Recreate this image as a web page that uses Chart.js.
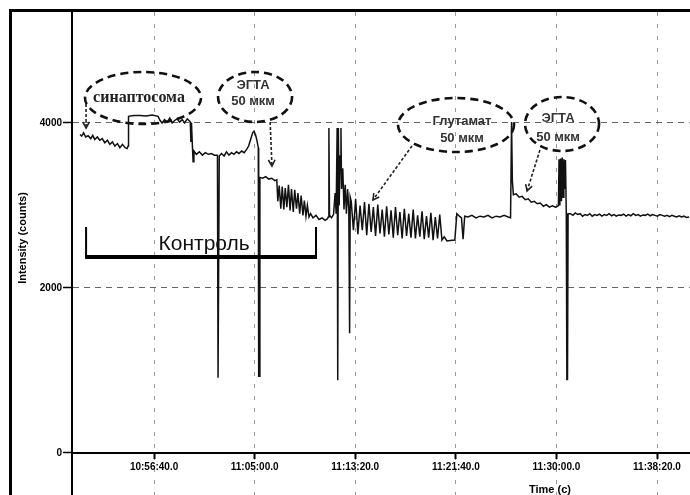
<!DOCTYPE html>
<html><head><meta charset="utf-8">
<script src="https://cdn.jsdelivr.net/npm/chart.js@4"></script>
<style>html,body{margin:0;padding:0;background:#fff;}canvas{display:block}</style>
</head><body>
<canvas id="c" width="690" height="495"></canvas>
<script>
// time in seconds after 10:50:00
const timeSec = [
32,40,50,60,72,85,95,105,118,130,142,155,168,180,193,205,218,230,243,256,266,271,273,300,330,360,390,420,
430,440,452,465,478,490,502,515,527,540,552,565,577,580,583,586,590,594,598,610,625,640,655,670,685,700,
715,718,721,724,735,748,760,772,785,797,810,822,835,848,860,870,880,890,897,905,912,918,920,924,926,
940,955,970,985,1000,1010,1015,1022,1030,1037,1045,1052,1060,1068,1076,1083,1092,1099,1108,1115,1124,1131,
1140,1147,1155,1162,1170,1178,1190,1205,1220,1235,1250,1262,
1266,1269,1272,1282,1292,1300,1305,1310,1312,1314,1316,1320,1325,1329,1332,1338,1344,1350,1356,1362,1368,1372,1375,
1380,1391,1402,1413,1424,1435,1446,1457,1468,1479,1490,1501,1512,1523,1534,1545,1556,1567,1578,1589,1600,
1611,1622,1633,1644,1655,1666,1677,1688,1699,1710,1721,1732,1743,1754,1765,1776,1787,1798,1809,1820,1831,
1842,1856,1872,1895,1905,1918,1928,1936,1944,1960,1980,2000,2020,2040,2060,2080,2100,2120,2140,2160,2172,
2177,2181,2186,2200,2215,2230,2245,2260,2275,2290,2305,2320,2335,2350,2365,2380,2395,2405,
2410,2413,2417,2421,2425,2429,2433,2437,2441,2445,2449,2452,2455,2458,
2470,2482,2494,2506,2518,2530,2542,2554,2566,2578,2590,2602,2614,2626,2638,2650,2662,2674,2686,2698,2710,
2722,2734,2746,2758,2770,2782,2794,2806,2818,2830,2842,2854,2866,2878,2890,2902,2914,2926,2938,2950,2962,
2974,2986,2998,3010,3022,3034,3046,3060
];
const intensity = [
3860,3840,3880,3830,3845,3810,3850,3800,3830,3790,3810,3760,3790,3740,3770,3720,3750,3700,3740,3700,3690,3720,4080,4090,4090,4085,4095,4080,
4030,4000,4040,4010,4060,4000,4030,4050,4010,4040,4000,4050,4020,4010,3770,4000,3750,3530,3660,3620,3650,3610,3640,3620,3630,3610,
3610,910,910,3600,3630,3600,3650,3610,3640,3620,3650,3630,3660,3640,3680,3720,3800,3880,3900,3850,3780,3700,930,930,3340,
3330,3350,3320,3330,3300,3310,3050,3240,2960,3230,2950,3210,2980,3250,2940,3200,2920,3190,2960,3150,2900,3120,
2880,3060,2870,3000,2860,2900,2850,2880,2830,2850,2820,2840,
2860,3940,2880,2850,2890,3150,2900,3940,3100,880,3940,3000,3600,3940,3200,3450,2950,3250,2900,3200,2950,1450,3100,
3050,2700,3080,2650,3000,2700,3040,2640,3020,2680,2980,2630,3010,2660,2950,2620,2990,2650,2940,2610,2980,
2640,2920,2600,2960,2630,2900,2610,2950,2600,2880,2620,2930,2590,2870,2610,2910,2580,2860,2600,2890,2580,
2620,2570,2575,2580,2900,2870,2850,2590,2870,2860,2880,2850,2870,2860,2880,2850,2870,2860,2880,2860,2850,
4010,3300,3130,3140,3100,3110,3070,3080,3040,3050,3020,3030,2990,3010,2980,2995,2980,2990,
3000,3560,3000,3570,3050,3580,3100,3560,3200,3550,2900,890,890,2900,
2900,2880,2910,2890,2900,2870,2890,2880,2900,2870,2890,2880,2895,2870,2890,2880,2900,2875,2890,2870,2885,
2880,2895,2870,2890,2875,2900,2880,2890,2870,2885,2880,2895,2875,2890,2880,2870,2890,2880,2870,2880,2865,
2880,2870,2860,2875,2860,2870,2855,2860
];
const tickTimes = [400, 900, 1400, 1900, 2400, 2900];
const yTicks = [0, 2000, 4000];
const T0 = 10*3600 + 50*60;

const ellipseNotes = [
  {t:345,  v:4303, rx:58, ry:26, lines:['синаптосома'], serif:true, dx:-4, dy:[0]},
  {t:902,  v:4315, rx:37, ry:25, lines:['ЭГТА','50 мкм'], dx:-2, dy:[-12,4]},
  {t:1901, v:3975, rx:58, ry:27, lines:['Глутамат','50 мкм'], dx:6, dy:[-4,13]},
  {t:2428, v:3987, rx:37, ry:27, lines:['ЭГТА','50 мкм'], dx:-4, dy:[-6,13]}
];
const arrowNotes = [
  {from:[62,4230],   to:[62,3939]},
  {from:[977,4012],  to:[986,3478]},
  {from:[1682,3721], to:[1488,3066]},
  {from:[2318,3672], to:[2254,3175]}
];
const controlBracket = {t1:62, t2:1205, v:2376, vTop:2739, label:'Контроль', labelT:649, labelV:2460};

function fmt(v){
  const s = T0 + v;
  const h = Math.floor(s/3600), m = Math.floor((s%3600)/60), sec = s%60;
  return h + ':' + String(m).padStart(2,'0') + ':' + String(sec).padStart(2,'0') + '.0';
}

const annotPlugin = {
  id: 'annot',
  afterDraw(chart){
    const {ctx, scales:{x, y}} = chart;
    const px = t => x.getPixelForValue(t), py = v => y.getPixelForValue(v);
    ctx.save();
    // outer frame
    ctx.fillStyle = '#000';
    ctx.fillRect(9, 9, 681, 3);
    ctx.fillRect(9, 9, 3, 486);

    // control bracket
    const b = controlBracket;
    ctx.strokeStyle = '#000';
    ctx.lineWidth = 2;
    ctx.beginPath();
    ctx.moveTo(px(b.t1), py(b.vTop)); ctx.lineTo(px(b.t1), py(b.v));
    ctx.moveTo(px(b.t2), py(b.vTop)); ctx.lineTo(px(b.t2), py(b.v));
    ctx.stroke();
    ctx.lineWidth = 4;
    ctx.beginPath();
    ctx.moveTo(px(b.t1) - 1, py(b.v)); ctx.lineTo(px(b.t2) + 1, py(b.v));
    ctx.stroke();
    ctx.fillStyle = '#111';
    ctx.font = '21px "Liberation Sans", Arial, sans-serif';
    ctx.textAlign = 'center';
    ctx.textBaseline = 'alphabetic';
    ctx.fillText(b.label, px(b.labelT), py(b.labelV));

    // ellipses
    ellipseNotes.forEach(n => {
      const cx = px(n.t), cy = py(n.v);
      ctx.setLineDash([8, 5]);
      ctx.lineWidth = 2.6;
      ctx.strokeStyle = '#111';
      ctx.beginPath();
      ctx.ellipse(cx, cy, n.rx, n.ry, 0, 0, Math.PI*2);
      ctx.stroke();
      ctx.setLineDash([]);
      ctx.textAlign = 'center';
      ctx.textBaseline = 'middle';
      if (n.serif){
        ctx.fillStyle = '#222';
        ctx.font = 'bold 16px "Liberation Serif", "Times New Roman", serif';
      } else {
        ctx.fillStyle = '#333';
        ctx.font = 'bold 13px "Liberation Sans", Arial, sans-serif';
      }
      n.lines.forEach((ln, i) => ctx.fillText(ln, cx + n.dx, cy + n.dy[i]));
    });

    // arrows
    arrowNotes.forEach(a => {
      const x1 = px(a.from[0]), y1 = py(a.from[1]), x2 = px(a.to[0]), y2 = py(a.to[1]);
      ctx.strokeStyle = '#222';
      ctx.lineWidth = 1.6;
      ctx.setLineDash([3, 2]);
      ctx.beginPath(); ctx.moveTo(x1, y1); ctx.lineTo(x2, y2); ctx.stroke();
      ctx.setLineDash([]);
      const ang = Math.atan2(y2 - y1, x2 - x1), L = 7;
      ctx.beginPath();
      ctx.moveTo(x2 - L*Math.cos(ang - 0.5), y2 - L*Math.sin(ang - 0.5));
      ctx.lineTo(x2, y2);
      ctx.lineTo(x2 - L*Math.cos(ang + 0.5), y2 - L*Math.sin(ang + 0.5));
      ctx.stroke();
    });

    // axis titles
    ctx.fillStyle = '#000';
    ctx.font = 'bold 11px "Liberation Sans", Arial, sans-serif';
    ctx.save();
    ctx.translate(23, 238);
    ctx.rotate(-Math.PI/2);
    ctx.textAlign = 'center';
    ctx.textBaseline = 'middle';
    ctx.fillText('Intensity (counts)', 0, 0);
    ctx.restore();
    ctx.textAlign = 'center';
    ctx.textBaseline = 'top';
    ctx.fillText('Time (c)', px(2368), 484);
    ctx.restore();
  }
};

new Chart(document.getElementById('c'), {
  type: 'line',
  data: {
    datasets: [{
      data: timeSec.map((t, i) => ({x: t, y: intensity[i]})),
      borderColor: '#111',
      borderWidth: 1.5,
      pointRadius: 0,
      tension: 0,
      fill: false
    }]
  },
  options: {
    responsive: false,
    maintainAspectRatio: false,
    animation: false,
    layout: {padding: {left: 12, top: 12, right: 0, bottom: 0}},
    plugins: {legend: {display: false}, tooltip: {enabled: false}},
    scales: {
      x: {
        type: 'linear',
        position: {y: 0},
        min: -8, max: 3064,
        afterBuildTicks: s => { s.ticks = tickTimes.map(v => ({value: v})); },
        ticks: {
          callback: v => fmt(v),
          font: {family: '"Liberation Sans", Arial, sans-serif', size: 10, weight: 'bold'},
          color: '#000', padding: 3, maxRotation: 0, autoSkip: false
        },
        grid: {color: '#9a9a9a', lineWidth: 1, drawTicks: true, tickLength: 5, tickColor: '#000', tickWidth: 2},
        border: {display: true, color: '#000', width: 2, dash: [4, 8]}
      },
      y: {
        type: 'linear',
        min: -510, max: 5345,
        afterBuildTicks: s => { s.ticks = yTicks.map(v => ({value: v})); },
        afterFit: s => { s.width = 60; s.paddingTop = 0; s.paddingBottom = 0; },
        ticks: {
          callback: v => String(v),
          font: {family: '"Liberation Sans", Arial, sans-serif', size: 10, weight: 'bold'},
          color: '#000', padding: 1
        },
        grid: {
          color: c => (c.tick && c.tick.value === 0) ? 'rgba(0,0,0,0)' : '#666',
          lineWidth: 1, tickLength: 9, tickColor: '#000', tickWidth: 1.5
        },
        border: {color: '#000', width: 2, dash: [6, 5]}
      }
    }
  },
  plugins: [annotPlugin]
});
</script>
</body></html>
